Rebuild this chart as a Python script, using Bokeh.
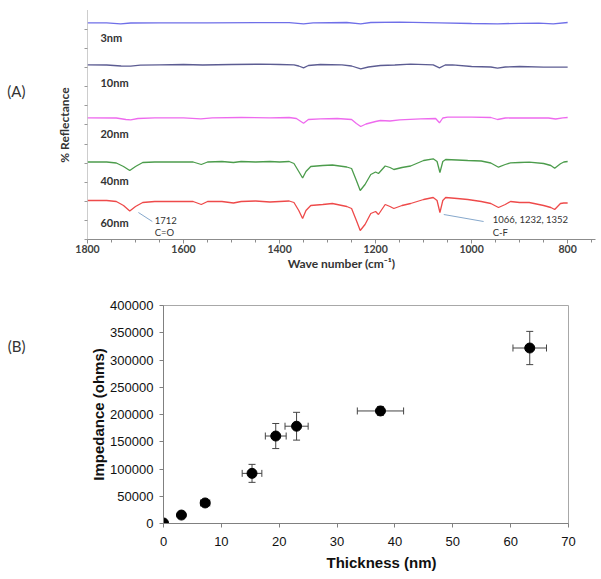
from bokeh.plotting import figure
from bokeh.models import (Range1d, FixedTicker, Label, Whisker, ColumnDataSource, TeeHead,
                          NumeralTickFormatter, LinearAxis, Title)
from bokeh.embed import file_html
from bokeh.resources import INLINE

# ---------------- Panel A data: FTIR spectra (offset % reflectance, arbitrary units)
series_names = ["3nm", "10nm", "20nm", "40nm", "60nm"]
series_colors = ["#6F6FE8", "#5C5C92", "#EE6AEE", "#4C9C4C", "#EE4A4A"]

wn_3nm = [1800, 1760, 1731, 1710, 1650, 1550, 1450, 1380, 1350, 1330, 1260, 1231, 1210, 1150, 1067, 1000, 946, 900, 860, 830, 800]
r_3nm = [216.7, 216.7, 215.7, 216.5, 216.7, 216.7, 216.9, 216.9, 215.7, 216.7, 217.0, 215.7, 217.0, 217.3, 216.7, 216.0, 215.7, 216.2, 216.3, 215.7, 217.0]

wn_10nm = [1800, 1760, 1730, 1710, 1690, 1650, 1600, 1560, 1500, 1440, 1400, 1370, 1360, 1350, 1340, 1315, 1270, 1250, 1231, 1215, 1190, 1160, 1127, 1080, 1067, 1055, 1040, 1000, 960, 946, 930, 900, 850, 800]
r_10nm = [174.7, 174.5, 173.5, 173.3, 174.3, 174.7, 175.0, 174.5, 175.0, 175.3, 175.0, 174.7, 173.5, 171.7, 174.0, 175.0, 174.7, 173.5, 170.7, 172.5, 174.0, 174.5, 175.3, 174.7, 171.7, 174.5, 174.7, 173.0, 172.5, 171.3, 172.5, 173.0, 172.3, 172.3]

wn_20nm = [1800, 1740, 1720, 1710, 1695, 1660, 1600, 1564, 1540, 1480, 1420, 1380, 1365, 1350, 1340, 1315, 1280, 1250, 1240, 1231, 1220, 1200, 1190, 1170, 1150, 1106, 1075, 1067, 1060, 1050, 1000, 960, 946, 930, 880, 840, 825, 810, 800]
r_20nm = [121.7, 121.5, 120.0, 119.7, 121.0, 121.7, 121.7, 120.7, 121.7, 122.0, 121.7, 122.0, 121.0, 116.3, 120.0, 120.7, 121.0, 120.0, 116.0, 113.0, 115.5, 118.0, 119.0, 118.5, 119.7, 120.7, 121.0, 116.7, 121.5, 122.3, 122.3, 122.0, 120.0, 121.5, 121.7, 121.5, 120.5, 121.7, 122.0]

wn_40nm = [1800, 1760, 1740, 1725, 1712, 1700, 1685, 1660, 1620, 1580, 1563, 1550, 1520, 1496, 1480, 1450, 1420, 1400, 1380, 1370, 1360, 1352, 1345, 1335, 1310, 1290, 1260, 1250, 1240, 1232, 1222, 1210, 1200, 1194, 1180, 1170, 1162, 1145, 1127, 1100, 1080, 1072, 1066, 1060, 1054, 1030, 1008, 980, 960, 944, 930, 919, 900, 880, 850, 835, 827, 815, 808, 800]
r_40nm = [77.5, 77.5, 76.5, 73.0, 69.0, 73.0, 77.0, 77.5, 77.5, 77.5, 75.0, 77.5, 78.0, 77.0, 78.0, 77.5, 78.0, 77.5, 78.0, 76.0, 68.0, 61.5, 68.0, 73.0, 74.0, 74.5, 72.5, 71.0, 59.0, 49.0, 55.0, 65.0, 67.5, 66.0, 73.5, 72.0, 70.0, 72.0, 73.5, 79.0, 80.7, 78.0, 67.0, 78.0, 80.0, 79.5, 79.0, 78.5, 76.5, 72.3, 75.0, 76.7, 77.0, 77.3, 76.0, 74.0, 71.3, 75.7, 77.5, 78.0]

wn_60nm = [1800, 1760, 1740, 1725, 1712, 1700, 1685, 1660, 1620, 1580, 1563, 1550, 1520, 1496, 1480, 1450, 1420, 1400, 1380, 1370, 1360, 1352, 1345, 1335, 1310, 1290, 1260, 1250, 1240, 1232, 1222, 1210, 1200, 1194, 1180, 1170, 1162, 1145, 1127, 1100, 1080, 1072, 1066, 1060, 1054, 1030, 1008, 980, 960, 944, 930, 919, 900, 880, 850, 835, 827, 815, 808, 800]
r_60nm = [39.0, 39.0, 38.0, 34.0, 28.5, 33.0, 37.0, 38.0, 38.0, 38.0, 35.0, 38.0, 38.0, 36.5, 38.0, 38.5, 37.5, 38.0, 38.5, 37.0, 29.0, 21.0, 29.0, 34.0, 35.0, 36.0, 33.0, 31.0, 19.0, 9.0, 15.0, 26.0, 28.0, 25.0, 35.0, 33.0, 31.0, 34.0, 36.0, 40.0, 42.0, 39.0, 27.0, 39.0, 42.0, 41.0, 40.0, 38.0, 36.0, 32.0, 35.0, 38.0, 37.0, 37.0, 34.0, 32.0, 30.0, 36.0, 36.5, 36.5]

spectra_wn = [wn_3nm, wn_10nm, wn_20nm, wn_40nm, wn_60nm]
spectra_r = [r_3nm, r_10nm, r_20nm, r_40nm, r_60nm]
xticks_a = [1800, 1600, 1400, 1200, 1000, 800]

# ---------------- Panel B data: impedance vs thickness
thickness = [0.0, 3.1, 7.2, 15.3, 19.4, 23.0, 37.5, 63.3]
impedance = [1000, 15500, 37700, 92000, 160500, 178500, 206500, 322000]
thickness_err = [0.2, 0.3, 0.8, 1.7, 1.8, 2.0, 4.0, 2.9]
impedance_err = [500, 2000, 2500, 16500, 23000, 25500, 8000, 30500]

label_font = "Lato"
arial = "Liberation Sans"

# =============== Panel A
pA = figure(width=597, height=276, output_backend="svg", toolbar_location=None,
            x_range=Range1d(1800, 742), y_range=Range1d(0, 229),
            min_border_left=87, min_border_right=2, min_border_top=10, min_border_bottom=37)
pA.outline_line_color = None
pA.grid.visible = False

for wn, r, c in zip(spectra_wn, spectra_r, series_colors):
    pA.line(wn, r, line_color=c, line_width=1.3)

name_pos_y = [202, 157, 106, 59, 17]
for name, yv in zip(series_names, name_pos_y):
    pA.add_layout(Label(x=1773, y=yv, text=name, text_font=label_font, text_font_style="bold",
                        text_font_size="11px", text_color="#333333", text_baseline="middle"))

# annotation leader lines
pA.segment(x0=[1694, 1058], y0=[27, 25], x1=[1665, 975], y1=[18, 18], line_color="#86A8CC", line_width=1)
for txt, xx, yy in [("1712", 1660, 19), ("C=O", 1660, 7), ("1066, 1232, 1352", 956, 20), ("C-F", 956, 7)]:
    pA.add_layout(Label(x=xx, y=yy, text=txt, text_font=label_font, text_font_size="9.5px",
                        text_color="#333333", text_baseline="middle"))

xa = pA.xaxis[0]
xa.ticker = FixedTicker(ticks=xticks_a, minor_ticks=list(range(750, 1801, 50)))
xa.axis_line_color = "#8C8C8C"
xa.major_tick_line_color = "#8C8C8C"
xa.minor_tick_line_color = "#8C8C8C"
xa.major_tick_in = 0
xa.major_tick_out = 4
xa.minor_tick_in = 0
xa.minor_tick_out = 3
xa.major_label_text_font = label_font
xa.major_label_text_font_style = "bold"
xa.major_label_text_font_size = "10.5px"
xa.major_label_text_color = "#404040"
xa.major_label_standoff = 1
xa.axis_label = "Wave number (cm\u207b\u00b9)"
xa.axis_label_text_font = label_font
xa.axis_label_text_font_style = "bold"
xa.axis_label_text_font_size = "12px"
xa.axis_label_text_color = "#333333"
xa.axis_label_standoff = 0

ya = pA.yaxis[0]
ya.ticker = FixedTicker(ticks=[], minor_ticks=[i * 19.1 for i in range(13)])
ya.axis_line_color = "#9A9A9A"
ya.axis_line_dash = "1 1"
ya.minor_tick_line_color = "#9A9A9A"
ya.minor_tick_in = 0
ya.minor_tick_out = 3
ya.axis_label = "% Reflectance"
ya.axis_label_text_font = label_font
ya.axis_label_text_font_style = "bold"
ya.axis_label_text_font_size = "12px"
ya.axis_label_text_color = "#333333"
ya.axis_label_standoff = 13

# panel tag "(A)" as an outer, line-less axis label
tagA = LinearAxis(ticker=FixedTicker(ticks=[149]), major_label_overrides={149: "(A)"},
                  axis_line_color=None, major_tick_line_color=None, minor_tick_line_color=None,
                  major_tick_out=0, major_tick_in=0, major_label_standoff=28,
                  major_label_text_font=label_font, major_label_text_font_size="15px",
                  major_label_text_color="#333333")
pA.add_layout(tagA, "left")

# =============== Panel B
pB = figure(width=597, height=303, output_backend="svg", toolbar_location=None,
            x_range=Range1d(0, 70), y_range=Range1d(0, 400000),
            min_border_left=163, min_border_right=29, min_border_top=29, min_border_bottom=56)
pB.grid.visible = False
pB.outline_line_color = "#A8A8A8"
pB.outline_line_width = 1

src = ColumnDataSource(dict(
    x=thickness, y=impedance,
    xl=[a - b for a, b in zip(thickness, thickness_err)],
    xu=[a + b for a, b in zip(thickness, thickness_err)],
    yl=[a - b for a, b in zip(impedance, impedance_err)],
    yu=[a + b for a, b in zip(impedance, impedance_err)],
))
err_col = "#444444"
pB.add_layout(Whisker(source=src, base="x", lower="yl", upper="yu", dimension="height",
                      line_color=err_col, line_width=1,
                      upper_head=TeeHead(size=7, line_color=err_col, line_width=1),
                      lower_head=TeeHead(size=7, line_color=err_col, line_width=1)))
pB.add_layout(Whisker(source=src, base="y", lower="xl", upper="xu", dimension="width",
                      line_color=err_col, line_width=1,
                      upper_head=TeeHead(size=7, line_color=err_col, line_width=1),
                      lower_head=TeeHead(size=7, line_color=err_col, line_width=1)))
pB.scatter("x", "y", source=src, size=10, fill_color="black", line_color="black")

xb = pB.xaxis[0]
xb.ticker = FixedTicker(ticks=list(range(0, 71, 10)))
xb.minor_tick_line_color = None
yb = pB.yaxis[0]
yb.ticker = FixedTicker(ticks=list(range(0, 400001, 50000)))
yb.minor_tick_line_color = None
yb.formatter = NumeralTickFormatter(format="0")
for ax in (xb, yb):
    ax.axis_line_color = "#808080"
    ax.major_tick_line_color = "#808080"
    ax.major_tick_in = 0
    ax.major_tick_out = 4
    ax.major_label_text_font = arial
    ax.major_label_text_font_size = "13px"
    ax.major_label_text_color = "#111111"
    ax.major_label_standoff = 6
xb.major_label_standoff = 9
yb.axis_label = "Impedance (ohms)"
yb.axis_label_text_font = arial
yb.axis_label_text_font_style = "bold"
yb.axis_label_text_font_size = "15px"
yb.axis_label_text_color = "#111111"
yb.axis_label_standoff = 0

pB.add_layout(Title(text="Thickness (nm)", align="left", offset=163, standoff=7,
                    text_font=arial, text_font_style="bold", text_font_size="15px",
                    text_color="#111111"), "below")

tagB = LinearAxis(ticker=FixedTicker(ticks=[324900]), major_label_overrides={324900: "(B)"},
                  axis_line_color=None, major_tick_line_color=None, minor_tick_line_color=None,
                  major_tick_out=0, major_tick_in=0, major_label_standoff=62,
                  major_label_text_font=label_font, major_label_text_font_size="15px",
                  major_label_text_color="#333333")
pB.add_layout(tagB, "left")

open("out.html", "w").write(file_html([pA, pB], INLINE))
